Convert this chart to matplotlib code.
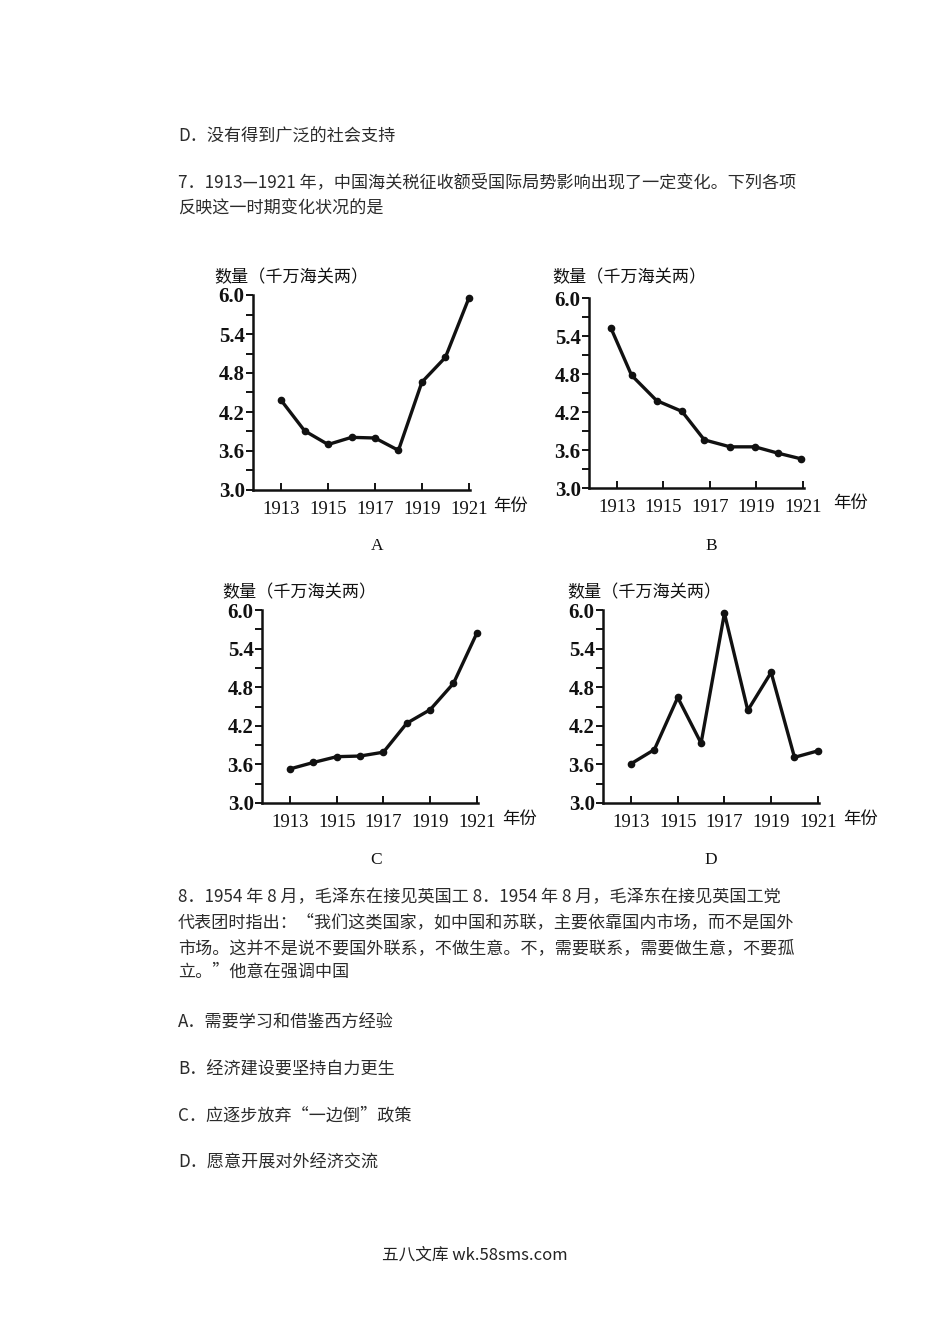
import matplotlib
matplotlib.use('Agg')
import matplotlib.pyplot as plt
from matplotlib.ticker import MultipleLocator

plt.rcParams['font.family'] = ['Noto Sans CJK SC', 'DejaVu Sans']

W, H = 950, 1344

# data (x = position along the year axis)
years = [1913, 1914, 1915, 1916, 1917, 1918, 1919, 1920, 1921]
val_a = [4.38, 3.91, 3.70, 3.81, 3.80, 3.61, 4.66, 5.04, 5.95]
x_b = [1912.75, 1913.63, 1914.71, 1915.80, 1916.76, 1917.87, 1918.94, 1919.93, 1920.93]
val_b = [5.52, 4.78, 4.38, 4.21, 3.76, 3.65, 3.65, 3.55, 3.46]
val_c = [3.53, 3.63, 3.72, 3.73, 3.79, 4.24, 4.45, 4.86, 5.64]
val_d = [3.61, 3.83, 4.64, 3.93, 5.95, 4.44, 5.03, 3.71, 3.81]
xticks = [1913, 1915, 1917, 1919, 1921]
yticks = [3.0, 3.6, 4.2, 4.8, 5.4, 6.0]

ylabel = '数量（千万海关两）'
xunit = '年份'

fig = plt.figure(figsize=(W / 100, H / 100), dpi=100)
fig.patch.set_facecolor('white')

def px(x, y):
    return x / W, 1 - y / H

def panel(left, right, top, bottom, xs, ys, letter, letter_xy, title_xy, unit_xy):
    ax = fig.add_axes([left / W, 1 - bottom / H, (right - left) / W, (bottom - top) / H])
    ax.plot(xs, ys, color='#111111', lw=2.4, marker='o', ms=4.5, solid_joinstyle='round', clip_on=False)
    ax.set_xlim(1911.8, 1921.05)
    ax.set_ylim(3.0, 6.0)
    ax.set_xticks(xticks)
    ax.set_xticklabels([str(t) for t in xticks], family='Liberation Serif', fontsize=13.5, color='#111111')
    ax.set_yticks(yticks)
    ax.set_yticklabels(['%.1f' % t for t in yticks], family='Liberation Serif', fontsize=15,
                       fontweight='bold', color='#111111')
    ax.yaxis.set_minor_locator(MultipleLocator(0.3))
    ax.tick_params(axis='y', which='both', direction='out', length=5, width=1.3, pad=1)
    ax.tick_params(axis='x', which='both', direction='in', length=5, width=1.3, pad=8)
    for s in ['top', 'right']:
        ax.spines[s].set_visible(False)
    for s in ['left', 'bottom']:
        ax.spines[s].set_linewidth(1.8)
        ax.spines[s].set_color('#111111')
    ax.patch.set_alpha(0)
    fig.text(*px(*title_xy), ylabel, fontsize=12.3, color='#111111', ha='left', va='center')
    fig.text(*px(*unit_xy), xunit, fontsize=12.5, color='#111111', ha='left', va='center')
    fig.text(*px(*letter_xy), letter, family='Liberation Serif', fontsize=12.5, color='#111111',
             ha='center', va='center')

panel(253, 470, 295, 490, years, val_a, 'A', (377, 546), (214, 277), (493, 506))
panel(589, 804, 298, 488, x_b, val_b, 'B', (711, 546), (552, 277), (833, 503))
panel(262, 478, 610, 803, years, val_c, 'C', (376, 860), (222, 592), (502, 819))
panel(603, 819, 610, 803, years, val_d, 'D', (711, 860), (567, 592), (843, 819))

# surrounding question text
tc = '#2b2b2b'
fs = 12.3
lines = [
    (137, 'D．没有得到广泛的社会支持'),
    (183, '7．1913—1921 年，中国海关税征收额受国际局势影响出现了一定变化。下列各项'),
    (209, '反映这一时期变化状况的是'),
    (897, '8．1954 年 8 月，毛泽东在接见英国工 8．1954 年 8 月，毛泽东在接见英国工党'),
    (923, '代表团时指出：“我们这类国家，如中国和苏联，主要依靠国内市场，而不是国外'),
    (948, '市场。这并不是说不要国外联系，不做生意。不，需要联系，需要做生意，不要孤'),
    (972, '立。”他意在强调中国'),
    (1023, 'A．需要学习和借鉴西方经验'),
    (1070, 'B．经济建设要坚持自力更生'),
    (1116, 'C．应逐步放弃“一边倒”政策'),
    (1163, 'D．愿意开展对外经济交流'),
]
for y, t in lines:
    fig.text(*px(178, y), t, fontsize=fs, color=tc, ha='left', va='center')

fig.text(*px(475, 1255), '五八文库 wk.58sms.com', fontsize=12, color='#222222', ha='center', va='center')

fig.savefig('out.png', dpi=100)
